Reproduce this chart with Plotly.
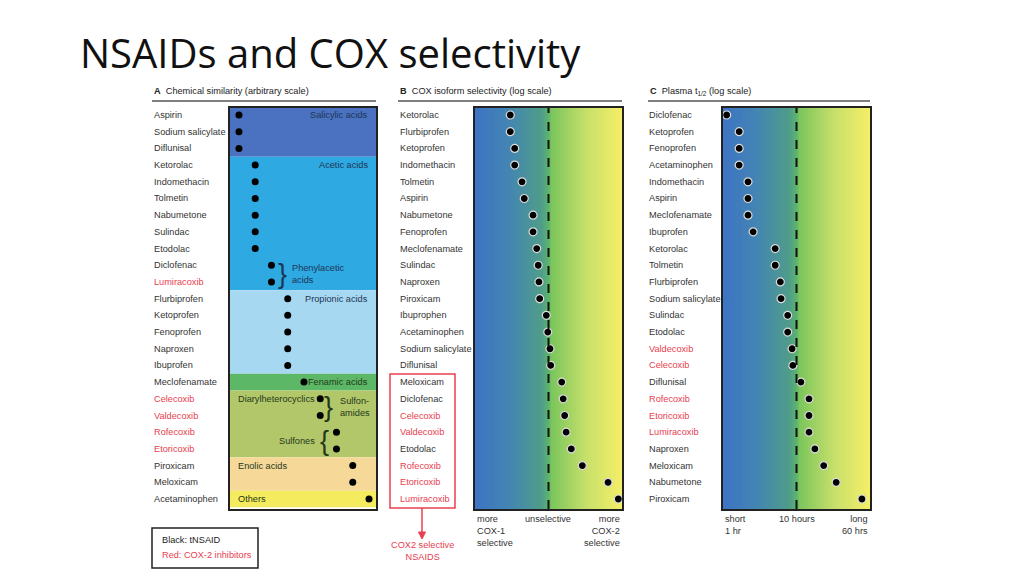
import numpy as np
import plotly.graph_objects as go

W, H = 1024, 576

# ---------------- data ----------------
a_names = ["Aspirin", "Sodium salicylate", "Diflunisal", "Ketorolac", "Indomethacin", "Tolmetin",
           "Nabumetone", "Sulindac", "Etodolac", "Diclofenac", "Lumiracoxib", "Flurbiprofen",
           "Ketoprofen", "Fenoprofen", "Naproxen", "Ibuprofen", "Meclofenamate", "Celecoxib",
           "Valdecoxib", "Rofecoxib", "Etoricoxib", "Piroxicam", "Meloxicam", "Acetaminophen"]
a_values = [1, 1, 1, 2, 2, 2, 2, 2, 2, 3, 3, 4, 4, 4, 4, 4, 5, 6, 6, 7, 7, 8, 8, 9]

b_names = ["Ketorolac", "Flurbiprofen", "Ketoprofen", "Indomethacin", "Tolmetin", "Aspirin",
           "Nabumetone", "Fenoprofen", "Meclofenamate", "Sulindac", "Naproxen", "Piroxicam",
           "Ibuprophen", "Acetaminophen", "Sodium salicylate", "Diflunisal", "Meloxicam",
           "Diclofenac", "Celecoxib", "Valdecoxib", "Etodolac", "Rofecoxib", "Etoricoxib",
           "Lumiracoxib"]
b_values = [-0.52, -0.52, -0.46, -0.46, -0.36, -0.33, -0.21, -0.21, -0.16, -0.14, -0.13, -0.12,
            -0.03, -0.01, 0.02, 0.03, 0.18, 0.20, 0.22, 0.24, 0.31, 0.46, 0.81, 0.95]

c_names = ["Diclofenac", "Ketoprofen", "Fenoprofen", "Acetaminophen", "Indomethacin", "Aspirin",
           "Meclofenamate", "Ibuprofen", "Ketorolac", "Tolmetin", "Flurbiprofen",
           "Sodium salicylate", "Sulindac", "Etodolac", "Valdecoxib", "Celecoxib", "Diflunisal",
           "Rofecoxib", "Etoricoxib", "Lumiracoxib", "Naproxen", "Meloxicam", "Nabumetone",
           "Piroxicam"]
c_values = [-0.95, -0.78, -0.78, -0.78, -0.66, -0.66, -0.66, -0.59, -0.29, -0.29, -0.22, -0.21,
            -0.12, -0.12, -0.06, -0.05, 0.06, 0.17, 0.17, 0.17, 0.25, 0.37, 0.54, 0.89]

cox2_inhibitors = ["Lumiracoxib", "Celecoxib", "Valdecoxib", "Rofecoxib", "Etoricoxib"]

# chemical classes (first row, last row, colour)
a_groups = [(0, 2, "#4a72c0"), (3, 10, "#2ea9e1"), (11, 15, "#a7d8f1"), (16, 16, "#5cb866"),
            (17, 20, "#b2c76a"), (21, 22, "#f6d999"), (23, 23, "#f4ec5e")]

# ---------------- helpers ----------------
FONT = "Liberation Sans, Arial, sans-serif"
RED = "#e8404f"
TXT = "#333333"
FS = 9.2


def px(x):
    return x / W


def py(y):
    return 1 - y / H


N = len(a_names)
yrange = [N - 1 + 0.6, -0.42]
top, bot = 108, 509

fig = go.Figure()

panels = [
    ("x", "y", a_names, a_values, [0.45, 9.43], (230, 376), 152),
    ("x2", "y2", b_names, b_values, [-1, 1], (475, 622), 398),
    ("x3", "y3", c_names, c_values, [-1, 1], (723, 870), 647),
]

colorscale = [[0.0, "#3d74c3"], [0.22, "#4384b4"], [0.45, "#4f9d8a"], [0.5, "#5db46c"],
              [0.52, "#7cc65c"], [0.75, "#c6df6a"], [1.0, "#f6ef68"]]

for i, (xa, ya, names, vals, xr, (l, r), lx) in enumerate(panels):
    sfx = "" if i == 0 else str(i + 1)
    fig.update_layout(**{
        "xaxis" + sfx: dict(domain=[px(l), px(r)], range=xr, showgrid=False, zeroline=False,
                            showticklabels=False, ticks="", showline=True, mirror=True,
                            linecolor="#222", linewidth=2, anchor=ya, fixedrange=True),
        "yaxis" + sfx: dict(domain=[py(bot), py(top)], range=yrange, showgrid=False,
                            zeroline=False, showticklabels=False, ticks="", showline=True,
                            mirror=True, linecolor="#222", linewidth=2, anchor=xa,
                            fixedrange=True),
    })
    if i > 0:
        gx = np.linspace(-1, 1, 201)
        fig.add_trace(go.Heatmap(x=gx, y=[-1, N + 1], z=[gx, gx], colorscale=colorscale,
                                 zmin=-1, zmax=1, showscale=False, zsmooth="best",
                                 hoverinfo="skip", xaxis=xa, yaxis=ya))
        fig.add_shape(type="line", xref=xa, yref=ya + " domain", x0=0, x1=0, y0=0, y1=1,
                      line=dict(color="#111", width=2, dash="dash"))
    fig.add_trace(go.Scatter(
        x=vals, y=list(range(len(names))), mode="markers", xaxis=xa, yaxis=ya,
        marker=dict(color="black", size=7 if i == 0 else 8,
                    line=dict(color="#dddddd", width=0 if i == 0 else 1.2)),
        cliponaxis=True, showlegend=False, hoverinfo="skip"))
    for k, name in enumerate(names):
        fig.add_annotation(xref="paper", yref=ya, x=px(lx), y=k, text=name, showarrow=False,
                           xanchor="left", yanchor="middle",
                           font=dict(family=FONT, size=FS,
                                     color=RED if name in cox2_inhibitors else TXT))

# panel A bands
for (s, e, col) in a_groups:
    fig.add_shape(type="rect", xref="x domain", yref="y", x0=0, x1=1,
                  y0=max(s - 0.5, yrange[1]), y1=min(e + 0.5, yrange[0]),
                  fillcolor=col, line=dict(width=0), layer="below")

# panel headers + underlines
headers = [("<b>A</b>  Chemical similarity (arbitrary scale)", 152, 376),
           ("<b>B</b>  COX isoform selectivity (log scale)", 398, 622),
           ("<b>C</b>  Plasma t<sub>1/2</sub> (log scale)", 648, 870)]
for text, x0, x1 in headers:
    fig.add_annotation(xref="paper", yref="paper", x=px(x0), y=py(91), text=text,
                       showarrow=False, xanchor="left", yanchor="middle",
                       font=dict(family=FONT, size=FS, color="#222"))
    fig.add_shape(type="line", xref="paper", yref="paper", x0=px(x0), x1=px(x1),
                  y0=py(101), y1=py(101), line=dict(color="#555", width=1.5))

# panel A class labels
NAVY = "#1d3557"
DKG = "#24381a"
cls = [("Salicylic acids", 370, 0, "right", NAVY), ("Acetic acids", 370, 3, "right", NAVY),
       ("Propionic acids", 370, 11, "right", NAVY), ("Fenamic acids", 370, 16, "right", DKG),
       ("Diarylheterocyclics", 236, 17, "left", DKG), ("Enolic acids", 236, 21, "left", DKG),
       ("Others", 236, 23, "left", DKG)]
for t, x, row, anc, col in cls:
    fig.add_annotation(xref="paper", yref="y", x=px(x), y=row, text=t, showarrow=False,
                       xanchor=anc, yanchor="middle", font=dict(family=FONT, size=FS, color=col))

BR = dict(family="Liberation Sans, Arial, sans-serif", size=27)
fig.add_annotation(xref="paper", yref="y", x=px(290), y=9.5, text="Phenylacetic<br>acids",
                   showarrow=False, xanchor="left", yanchor="middle", align="left",
                   font=dict(family=FONT, size=FS, color=NAVY))
fig.add_annotation(xref="paper", yref="y", x=px(282), y=9.5, text="}", showarrow=False,
                   xanchor="center", yanchor="middle", font=dict(BR, color=NAVY))
fig.add_annotation(xref="paper", yref="y", x=px(338), y=17.5, text="Sulfon-<br>amides",
                   showarrow=False, xanchor="left", yanchor="middle", align="left",
                   font=dict(family=FONT, size=FS, color=DKG))
fig.add_annotation(xref="paper", yref="y", x=px(328), y=17.5, text="}", showarrow=False,
                   xanchor="center", yanchor="middle", font=dict(BR, color=DKG))
fig.add_annotation(xref="paper", yref="y", x=px(317), y=19.5, text="Sulfones", showarrow=False,
                   xanchor="right", yanchor="middle",
                   font=dict(family=FONT, size=FS, color=DKG))
fig.add_annotation(xref="paper", yref="y", x=px(324), y=19.5, text="{", showarrow=False,
                   xanchor="center", yanchor="middle", font=dict(BR, color=DKG))

# legend box
fig.add_shape(type="rect", xref="paper", yref="paper", x0=px(152), x1=px(258), y0=py(528),
              y1=py(568), line=dict(color="#222", width=1.5))
fig.add_annotation(xref="paper", yref="paper", x=px(160), y=py(540), text="Black: tNSAID",
                   showarrow=False, xanchor="left", yanchor="middle",
                   font=dict(family=FONT, size=FS, color="#222"))
fig.add_annotation(xref="paper", yref="paper", x=px(160), y=py(555),
                   text="Red: COX-2 inhibitors", showarrow=False, xanchor="left",
                   yanchor="middle", font=dict(family=FONT, size=FS, color=RED))

# COX2 selective box + arrow
fig.add_shape(type="rect", xref="paper", yref="paper", x0=px(390), x1=px(455), y0=py(508),
              y1=py(374), line=dict(color=RED, width=1.5))
fig.add_shape(type="line", xref="paper", yref="paper", x0=px(422), x1=px(422), y0=py(508),
              y1=py(534), line=dict(color=RED, width=1.5))
fig.add_shape(type="path", xref="paper", yref="paper",
              path=f"M {px(418.5)} {py(532)} L {px(425.5)} {py(532)} L {px(422)} {py(539)} Z",
              fillcolor=RED, line=dict(color=RED, width=1))
fig.add_annotation(xref="paper", yref="paper", x=px(422), y=py(551),
                   text="COX2 selective<br>NSAIDS", showarrow=False, xanchor="center",
                   yanchor="middle", font=dict(family=FONT, size=FS, color=RED))

# x captions B and C
caps = [("more<br>COX-1<br>selective", 475, "left"), ("unselective", 548, "center"),
        ("more<br>COX-2<br>selective", 622, "right"),
        ("short<br>1 hr", 723, "left"), ("10 hours", 797, "center"),
        ("long<br>60 hrs", 870, "right")]
for t, x, anc in caps:
    fig.add_annotation(xref="paper", yref="paper", x=px(x), y=py(512), text=t,
                       showarrow=False, xanchor=anc, yanchor="top", align=anc,
                       font=dict(family=FONT, size=FS, color=TXT))

# slide title
fig.add_annotation(xref="paper", yref="paper", x=px(78), y=py(53),
                   text="NSAIDs and COX selectivity", showarrow=False, xanchor="left",
                   yanchor="middle", font=dict(family="Open Sans, sans-serif", size=40,
                                               color="#111"))

fig.update_layout(width=W, height=H, margin=dict(l=0, r=0, t=0, b=0),
                  paper_bgcolor="white", plot_bgcolor="white", showlegend=False)

fig.write_html("out.html", config={"displayModeBar": False},
               post_script="document.body.style.margin='0px';")
